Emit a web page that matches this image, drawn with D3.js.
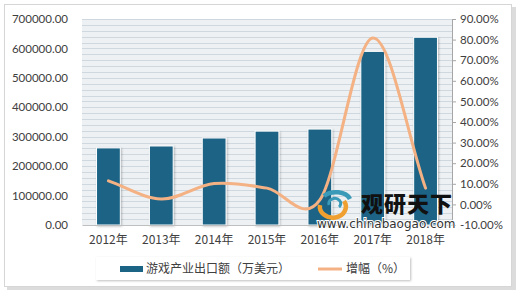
<!DOCTYPE html>
<html>
<head>
<meta charset="utf-8">
<script src="https://cdn.jsdelivr.net/npm/d3@7"></script>
<style>
  body { margin: 0; background: #fff; }
  svg { display: block; }
</style>
</head>
<body>
<div id="chart"></div>
<script>
const years = ["2012年", "2013年", "2014年", "2015年", "2016年", "2017年", "2018年"];
const exportValue = [262000, 268500, 295600, 319000, 326000, 590000, 638000];
const growth = [11.4, 2.6, 10.1, 7.9, 2.2, 80.8, 7.9];
const leftTicks = [0, 100000, 200000, 300000, 400000, 500000, 600000, 700000];
const rightTicks = [-10, 0, 10, 20, 30, 40, 50, 60, 70, 80, 90];
const legendNames = ["游戏产业出口额（万美元）", "增幅（%）"];

const width = 520, height = 293;
const plot = { left: 82, right: 452, top: 19, bottom: 225 };
const barColor = "#1b6486";
const lineColor = "#f4b183";

// smooth curve like the office "smoothed line": catmull-rom inside, full slope at the ends
function officeSmooth(context) {
    let pts = [];
    return {
        areaStart() {}, areaEnd() {},
        lineStart() { pts = []; },
        point(px, py) { pts.push([+px, +py]); },
        lineEnd() {
            const n = pts.length;
            if (!n) return;
            const tan = i => {
                if (n < 2) return [0, 0];
                if (i === 0) return [pts[1][0] - pts[0][0], pts[1][1] - pts[0][1]];
                if (i === n - 1) return [pts[n - 1][0] - pts[n - 2][0], pts[n - 1][1] - pts[n - 2][1]];
                return [(pts[i + 1][0] - pts[i - 1][0]) / 2, (pts[i + 1][1] - pts[i - 1][1]) / 2];
            };
            context.moveTo(pts[0][0], pts[0][1]);
            for (let i = 0; i < n - 1; i++) {
                const m0 = tan(i), m1 = tan(i + 1);
                context.bezierCurveTo(
                    pts[i][0] + m0[0] / 3, pts[i][1] + m0[1] / 3,
                    pts[i + 1][0] - m1[0] / 3, pts[i + 1][1] - m1[1] / 3,
                    pts[i + 1][0], pts[i + 1][1]);
            }
        }
    };
}

const svg = d3.select("#chart").append("svg")
    .attr("width", width)
    .attr("height", height);

const defs = svg.append("defs");
const shadow = defs.append("filter").attr("id", "shadow")
    .attr("x", "-30%").attr("y", "-30%").attr("width", "160%").attr("height", "160%");
shadow.append("feDropShadow")
    .attr("dx", 1).attr("dy", 1).attr("stdDeviation", 1.2)
    .attr("flood-color", "#000").attr("flood-opacity", 0.25);

// outer panel
svg.append("rect")
    .attr("x", 7).attr("y", 7).attr("width", 509).attr("height", 283)
    .attr("fill", "#dcdcdc");
svg.append("rect")
    .attr("x", 4.5).attr("y", 4.5).attr("width", 507).attr("height", 282)
    .attr("fill", "#fff").attr("stroke", "#d6d6d6");

const x = d3.scaleBand()
    .domain(years)
    .range([plot.left, plot.right])
    .paddingInner(0.55)
    .paddingOuter(0.275);

const y = d3.scaleLinear().domain([0, 700000]).range([plot.bottom, plot.top]);
const y2 = d3.scaleLinear().domain([-10, 90]).range([plot.bottom, plot.top]);

// plot background and fine grid
svg.append("rect")
    .attr("x", plot.left).attr("y", plot.top)
    .attr("width", plot.right - plot.left).attr("height", plot.bottom - plot.top)
    .attr("fill", "#edf1f4");

svg.append("g")
    .selectAll("line")
    .data(d3.range(20000, 700001, 20000))
    .join("line")
    .attr("x1", plot.left).attr("x2", plot.right)
    .attr("y1", d => Math.round(y(d)) + 0.5)
    .attr("y2", d => Math.round(y(d)) + 0.5)
    .attr("stroke", "#cfd8df")
    .attr("stroke-width", 1);

// bars
svg.append("g")
    .selectAll("rect")
    .data(exportValue)
    .join("rect")
    .attr("x", (d, i) => x(years[i]))
    .attr("y", d => y(d))
    .attr("width", x.bandwidth())
    .attr("height", d => y(0) - y(d))
    .attr("fill", barColor)
    .attr("stroke", "#fff")
    .attr("stroke-width", 1)
    .attr("filter", "url(#shadow)");

// bottom axis
const xAxis = svg.append("g")
    .attr("transform", `translate(0,${plot.bottom})`)
    .call(d3.axisBottom(x).tickSize(0).tickPadding(10));
xAxis.select(".domain").attr("stroke", "#bfbfbf");
xAxis.selectAll("text")
    .attr("font-family", "'Noto Sans CJK SC', sans-serif")
    .attr("font-size", 12)
    .attr("fill", "#404040");

// left axis
const yAxis = svg.append("g")
    .attr("transform", `translate(${plot.left},0)`)
    .call(d3.axisLeft(y).tickValues(leftTicks).tickSize(0).tickPadding(14)
        .tickFormat(d3.format(".2f")));
yAxis.select(".domain").remove();
yAxis.selectAll("text")
    .attr("font-family", "Lato, sans-serif")
    .attr("font-size", 11.5)
    .attr("fill", "#404040");

// right axis
const y2Axis = svg.append("g")
    .attr("transform", `translate(${plot.right},0)`)
    .call(d3.axisRight(y2).tickValues(rightTicks).tickSize(4).tickPadding(4)
        .tickFormat(d => d.toFixed(2) + "%"));
y2Axis.select(".domain").attr("stroke", "#a6a6a6");
y2Axis.selectAll(".tick line").attr("stroke", "#a6a6a6");
y2Axis.selectAll("text")
    .attr("font-family", "Lato, sans-serif")
    .attr("font-size", 11.5)
    .attr("fill", "#404040");

// growth line
const line = d3.line()
    .x((d, i) => x(years[i]) + x.bandwidth() / 2)
    .y(d => y2(d))
    .curve(officeSmooth);
svg.append("path")
    .datum(growth)
    .attr("d", line)
    .attr("fill", "none")
    .attr("stroke", lineColor)
    .attr("stroke-width", 3)
    .attr("stroke-linecap", "round");

// watermark
const wm = svg.append("g").attr("transform", "translate(317,190)");
wm.append("path")
    .attr("d", "M3,15 A13,11 0 1 0 27,11")
    .attr("fill", "none").attr("stroke", "#f0a030").attr("stroke-width", 4.5);
wm.append("path")
    .attr("d", "M7,6 A15,10 0 0 1 33,9")
    .attr("fill", "none").attr("stroke", "#3a9ab8").attr("stroke-width", 4.5);
wm.append("path")
    .attr("d", "M12,15 A6,5 0 1 1 22,17")
    .attr("fill", "none").attr("stroke", "#3a9ab8").attr("stroke-width", 3);
wm.append("text")
    .attr("x", 44).attr("y", 22)
    .attr("font-family", "'Noto Sans CJK SC', sans-serif")
    .attr("font-weight", 900)
    .attr("font-size", 22)
    .attr("letter-spacing", 1)
    .attr("fill", "#111")
    .text("观研天下");
wm.append("text")
    .attr("x", 0).attr("y", 38)
    .attr("font-family", "'DejaVu Sans', sans-serif")
    .attr("font-size", 12)
    .attr("fill", "#333")
    .attr("stroke", "#fff").attr("stroke-width", 2).attr("paint-order", "stroke")
    .text("www.chinabaogao.com");

// legend
const legend = svg.append("g");
legend.append("rect")
    .attr("x", 96).attr("y", 257).attr("width", 314).attr("height", 23)
    .attr("fill", "#fff")
    .attr("filter", "url(#shadow)");
legend.append("rect")
    .attr("x", 120).attr("y", 266).attr("width", 23).attr("height", 6)
    .attr("fill", barColor);
legend.append("text")
    .attr("x", 146).attr("y", 273)
    .attr("font-family", "'Noto Sans CJK SC', sans-serif")
    .attr("font-size", 12)
    .attr("fill", "#404040")
    .text(legendNames[0]);
legend.append("line")
    .attr("x1", 318).attr("x2", 342).attr("y1", 269).attr("y2", 269)
    .attr("stroke", lineColor).attr("stroke-width", 3);
legend.append("text")
    .attr("x", 346).attr("y", 273)
    .attr("font-family", "'Noto Sans CJK SC', sans-serif")
    .attr("font-size", 12)
    .attr("fill", "#404040")
    .text(legendNames[1]);
</script>
</body>
</html>
